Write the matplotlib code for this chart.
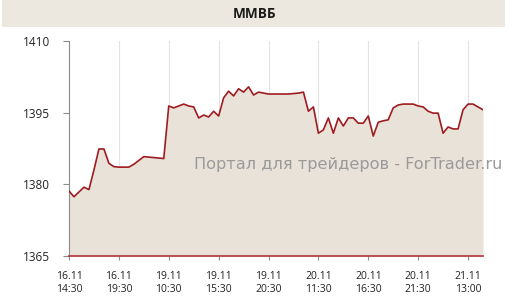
import numpy as np
import matplotlib
matplotlib.use('Agg')
import matplotlib.pyplot as plt
from matplotlib.patches import Rectangle

plt.rcParams['font.family'] = ['Open Sans', 'DejaVu Sans']

title = 'ММВБ'
watermark = 'Портал для трейдеров - ForTrader.ru'

# index values, one point every ~5 px of the original chart
values = [1378.6, 1377.4, 1378.4, 1379.4, 1378.9, 1383.0, 1387.4, 1387.4, 1384.4, 1383.7,
          1383.6, 1383.6, 1383.6, 1384.2, 1385.0, 1385.8, 1385.7, 1385.6, 1385.5, 1385.4,
          1396.4, 1396.0, 1396.4, 1396.8, 1396.4, 1396.2, 1393.9, 1394.5, 1394.1, 1395.3,
          1394.3, 1398.1, 1399.5, 1398.5, 1400.0, 1399.3, 1400.4, 1398.7, 1399.3, 1399.1,
          1398.9, 1398.9, 1398.9, 1398.9, 1398.9, 1399.0, 1399.1, 1399.3, 1395.3, 1396.2,
          1390.7, 1391.4, 1393.9, 1390.7, 1393.9, 1392.2, 1393.9, 1393.9, 1392.8, 1392.8,
          1394.3, 1390.1, 1393.0, 1393.3, 1393.5, 1396.0, 1396.6, 1396.8, 1396.8, 1396.8,
          1396.4, 1396.2, 1395.3, 1394.9, 1394.9, 1390.7, 1392.0, 1391.6, 1391.6, 1395.6,
          1396.8, 1396.8, 1396.2, 1395.6]

tick_labels = ['16.11\n14:30', '16.11\n19:30', '19.11\n10:30', '19.11\n15:30', '19.11\n20:30',
               '20.11\n11:30', '20.11\n16:30', '20.11\n21:30', '21.11\n13:00']
yticks = [1365, 1380, 1395, 1410]

x = np.arange(len(values))

fig = plt.figure(figsize=(5.09, 3.07), dpi=100)
fig.patch.set_facecolor('white')

# title bar
fig.patches.append(Rectangle((2/509., 1 - 27/307.), 503/509., 27/307., transform=fig.transFigure,
                             facecolor='#ece8df', edgecolor='none', zorder=0))
fig.text(255/509., 1 - 14/307., title, ha='center', va='center', fontsize=9.8,
         fontweight='bold', color='#1a1a1a')

ax = fig.add_axes([69/509., 1 - 256/307., 414/509., 215/307.])
ax.fill_between(x, values, 1365, color='#e8e2d8', lw=0, zorder=1)
ax.plot(x, values, color='#9e1b20', lw=1.2, zorder=3)
ax.set_xlim(0, len(values) - 1)
ax.set_ylim(1365, 1410)

ax.set_xticks(np.arange(0, len(values), 10))
ax.set_xticklabels(tick_labels, fontsize=7.5, color='#222222', linespacing=1.2)
ax.set_yticks(yticks)
ax.set_yticklabels([str(v) for v in yticks], fontsize=8.5, color='#222222')
ax.grid(axis='x', color='#e6e3de', lw=0.8, zorder=0)
ax.set_axisbelow(True)

for s in ['top', 'right']:
    ax.spines[s].set_visible(False)
ax.spines['left'].set_color('#8c8c8c')
ax.spines['left'].set_linewidth(0.8)
ax.spines['bottom'].set_color('#b2343a')
ax.spines['bottom'].set_linewidth(1.2)
ax.tick_params(axis='y', length=4, width=0.8, color='#8c8c8c', pad=9.5)
ax.tick_params(axis='x', length=3, width=0.8, color='#8c8c8c', pad=8)

fig.text(348/509., 1 - 165/307., watermark, ha='center', va='center', fontsize=11.6,
         color='#9a9a9a', family='DejaVu Sans')

plt.savefig('out.png', dpi=100)
plt.close()
